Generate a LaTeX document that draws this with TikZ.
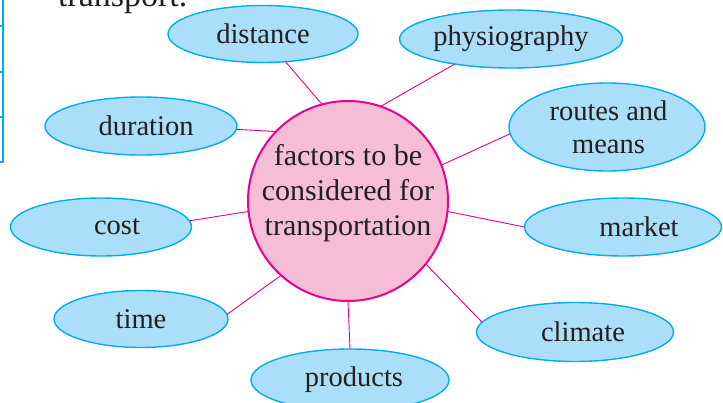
\documentclass[tikz,border=0pt]{standalone}
\usepackage{fontspec}
\setmainfont{Liberation Serif}
\usetikzlibrary{shapes.geometric}
\definecolor{cabdff9}{RGB}{171,223,249}
\definecolor{c00aeef}{RGB}{0,174,239}
\definecolor{cf6bed6}{RGB}{246,190,214}
\definecolor{cec008c}{RGB}{236,0,140}
\definecolor{c231f20}{RGB}{35,31,32}
\begin{document}
\begin{tikzpicture}[y=1pt, x=1pt, yscale=-1, inner sep=0pt, outer sep=0pt,
  factor/.style={ellipse, draw=c00aeef, fill=cabdff9, line width=1.4pt,
    text=c231f20, font=\fontsize{28.5}{33}\selectfont, align=center},
  hub/.style={circle, draw=cec008c, fill=cf6bed6, line width=2pt, minimum size=200pt},
  link/.style={draw=cec008c, line width=0.9pt}]
  \useasboundingbox (0,0) rectangle (723,403);
  \path[draw=c00aeef,line width=1.2pt] (3,0) -- (3,162) -- (0,162);
  \path[draw=c00aeef,line width=1.2pt] (0,26) -- (3,26) (0,72) -- (3,72) (0,117) -- (3,117);
  \node[anchor=base west, text=c231f20, font=\fontsize{34}{40}\selectfont] (heading) at (58,7) {transport.};
  \node[hub] (hub) at (348,201) {};
  \node[text=c231f20, font=\fontsize{30}{35}\selectfont, align=center] (hubtext) at (348,193)
    {factors to be\\considered for\\transportation};
  \node[factor, minimum width=190pt, minimum height=57pt] (distance) at (263,34) {distance};
  \node[factor, minimum width=223pt, minimum height=58pt] (physiography) at (511,39) {physiography};
  \node[factor, minimum width=196pt, minimum height=88pt] (routes) at (607,127) {\hspace{3pt}routes and\\\hspace{3pt}means};
  \node[factor, minimum width=192pt, minimum height=58pt] (duration) at (141,126) {\hspace{5pt}duration\hspace{-5pt}};
  \node[factor, minimum width=181pt, minimum height=58pt] (cost) at (101,227) {\hspace{16pt}cost\hspace{-16pt}};
  \node[factor, minimum width=197pt, minimum height=58pt] (market) at (623,227) {\hspace{16pt}market\hspace{-16pt}};
  \node[factor, minimum width=174pt, minimum height=57pt] (time) at (141,319) {time};
  \node[factor, minimum width=197pt, minimum height=59pt] (climate) at (575,332) {\hspace{8pt}climate\hspace{-8pt}};
  \node[factor, minimum width=198pt, minimum height=62pt] (products) at (350,380) {\hspace{4pt}products\hspace{-4pt}};
  \path[link] (hub.105.5) -- (distance.-51.8);
  \path[link] (hub.71.3) -- (physiography.204.7);
  \path[link] (hub.21.8) -- (routes.184.6);
  \path[link] (hub.136.6) -- (duration.-2.4);
  \path[link] (hub.186.3) -- (cost.4);
  \path[link] (hub.-6.3) -- (market.180);
  \path[link] (hub.228.2) -- (time.3);
  \path[link] (hub.-39.7) -- (climate.174.4);
  \path[link] (hub.-90) -- (products.90);
\end{tikzpicture}
\end{document}
